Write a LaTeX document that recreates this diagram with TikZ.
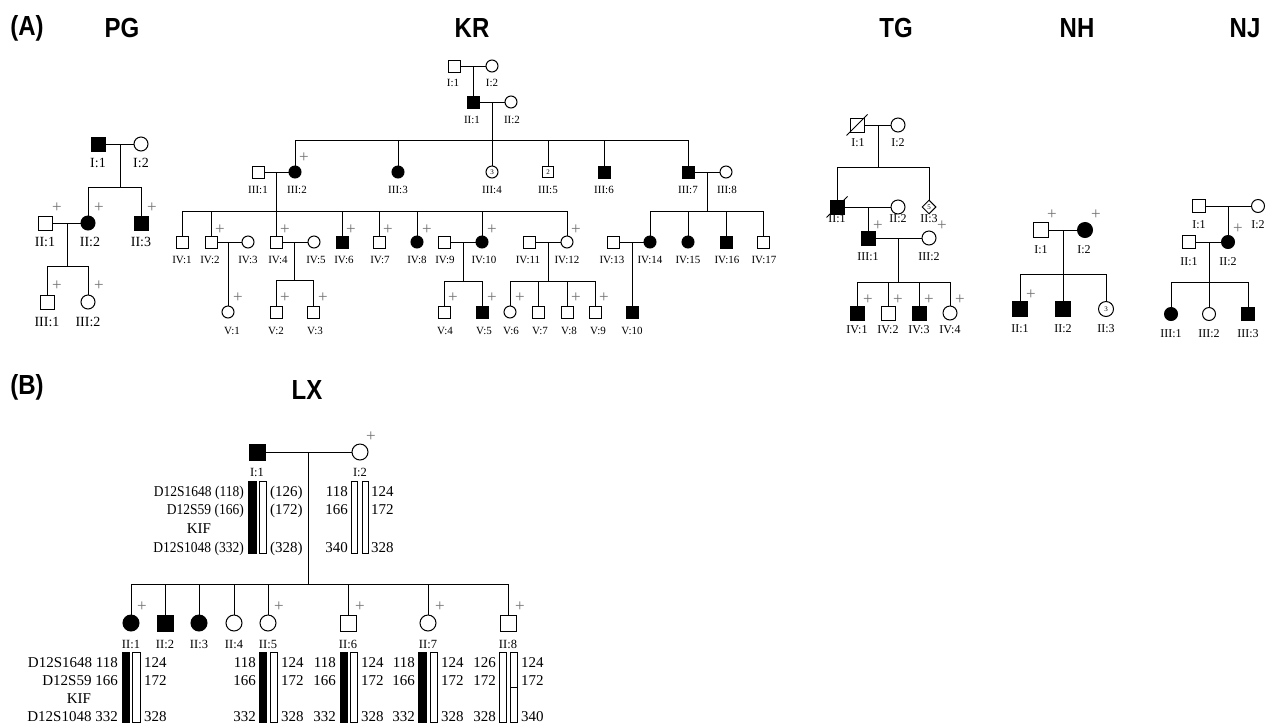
\documentclass[tikz,border=0pt]{standalone}
\usepackage{fontspec}
\setmainfont{Liberation Serif}
\newfontfamily\hvfont{Liberation Sans}
\usetikzlibrary{shapes.geometric}
\newcommand\kid[2]{\draw[ln] (#1) -- (#1 |- #2);}
\newcommand\sib[3]{\draw[ln] (#1 |- #3) -- (#2 |- #3);}
\begin{document}
\begin{tikzpicture}[x=1pt,y=-1pt,
  ln/.style={line width=1pt},
  sq/.style={draw,line width=1pt,rectangle,inner sep=0pt,minimum size=\symsz},
  ci/.style={draw,line width=1pt,circle,inner sep=0pt,minimum size=\symsz},
  di/.style={draw,line width=1pt,diamond,inner sep=0pt,minimum size=\symsz},
  aff/.style={fill=black},
  lab/.style={font=\labfont,inner sep=0pt},
  pl/.style={font=\fontsize{17}{17}\selectfont,text=black!55,inner sep=0pt},
  ttl/.style={font=\hvfont\bfseries\fontsize{24}{24}\selectfont,inner sep=0pt,yscale=1.15},
  gt/.style={font=\fontsize{15}{15}\selectfont,inner sep=0pt,text height=10pt,text depth=0pt},
  gtl/.style={gt,anchor=east},
  gtr/.style={gt,anchor=west},
  bar/.style={draw,line width=0.9pt},
  num/.style={font=\fontsize{7}{7}\selectfont}
]
\fill[white] (0,0) rectangle (1269,724);
\useasboundingbox (0,0) rectangle (1269,724);
% ---------- titles
\node[ttl] (tA) at (27,28) {(A)};
\node[ttl] (tPG) at (122,28) {PG};
\node[ttl] (tKR) at (472,28) {KR};
\node[ttl] (tTG) at (896,28) {TG};
\node[ttl] (tNH) at (1077,28) {NH};
\node[ttl] (tNJ) at (1245,28) {NJ};
\node[ttl] (tB) at (27,387) {(B)};
\node[ttl] (tLX) at (307,390) {LX};
% ---------- PG
\def\symsz{14pt}\def\labfont{\fontsize{14}{14}\selectfont}
\node[sq,aff] (pg11) at (98,144) {};
\node[ci] (pg12) at (141,144) {};
\node[sq] (pg21) at (45,223) {};
\node[ci,aff] (pg22) at (88,223) {};
\node[sq,aff] (pg23) at (141,223) {};
\node[sq] (pg31) at (47,302) {};
\node[ci] (pg32) at (88,302) {};
\coordinate (pgm1) at (120,144); \coordinate (pgs1) at (120,187);
\coordinate (pgm2) at (67,223); \coordinate (pgs2) at (67,266);
\draw[ln] (pg11) -- (pg12);
\draw[ln] (pgm1) -- (pgs1);
\sib{pg22}{pg23}{pgs1} \kid{pg22}{pgs1} \kid{pg23}{pgs1}
\draw[ln] (pg21) -- (pg22);
\draw[ln] (pgm2) -- (pgs2);
\sib{pg31}{pg32}{pgs2} \kid{pg31}{pgs2} \kid{pg32}{pgs2}
\node[lab] (pg11l) at (98,163) {I:1};
\node[lab] (pg12l) at (141,163) {I:2};
\node[lab] (pg21l) at (45,242) {II:1};
\node[lab] (pg22l) at (90,242) {II:2};
\node[lab] (pg23l) at (141,242) {II:3};
\node[lab] (pg31l) at (47,322) {III:1};
\node[lab] (pg32l) at (88,322) {III:2};
\node[pl] (pg21p) at (57,208) {+};
\node[pl] (pg22p) at (99,208) {+};
\node[pl] (pg23p) at (152,208) {+};
\node[pl] (pg31p) at (57,286) {+};
\node[pl] (pg32p) at (99,286) {+};
% ---------- KR
\def\symsz{12pt}\def\labfont{\fontsize{11}{11}\selectfont}
\node[sq] (kr11) at (454,66) {};
\node[ci] (kr12) at (492,66) {};
\node[sq,aff] (kr21) at (473,102) {};
\node[ci] (kr22) at (511,102) {};
\node[sq] (kr31) at (258,172) {};
\node[ci,aff] (kr32) at (295,172) {};
\node[ci,aff] (kr33) at (398,172) {};
\node[ci,num] (kr34) at (492,172) {3};
\node[sq,num,minimum size=11pt] (kr35) at (548,172) {2};
\node[sq,aff] (kr36) at (604,172) {};
\node[sq,aff] (kr37) at (688,172) {};
\node[ci] (kr38) at (726,172) {};
\node[sq] (kr41) at (182,242) {};
\node[sq] (kr42) at (211,242) {};
\node[ci] (kr43) at (248,242) {};
\node[sq] (kr44) at (276,242) {};
\node[ci] (kr45) at (314,242) {};
\node[sq,aff] (kr46) at (342,242) {};
\node[sq] (kr47) at (379,242) {};
\node[ci,aff] (kr48) at (417,242) {};
\node[sq] (kr49) at (444,242) {};
\node[ci,aff] (kr410) at (482,242) {};
\node[sq] (kr411) at (529,242) {};
\node[ci] (kr412) at (567,242) {};
\node[sq] (kr413) at (613,242) {};
\node[ci,aff] (kr414) at (650,242) {};
\node[ci,aff] (kr415) at (688,242) {};
\node[sq,aff] (kr416) at (726,242) {};
\node[sq] (kr417) at (763,242) {};
\node[ci] (kr51) at (228,312) {};
\node[sq] (kr52) at (276,312) {};
\node[sq] (kr53) at (313,312) {};
\node[sq] (kr54) at (444,312) {};
\node[sq,aff] (kr55) at (482,312) {};
\node[ci] (kr56) at (510,312) {};
\node[sq] (kr57) at (538,312) {};
\node[sq] (kr58) at (567,312) {};
\node[sq] (kr59) at (595,312) {};
\node[sq,aff] (kr510) at (632,312) {};
\coordinate (krm1) at (473,66);
\coordinate (krm2) at (492,102); \coordinate (krs2) at (492,140);
\coordinate (krm3) at (276,172); \coordinate (krs3) at (276,211);
\coordinate (krm4) at (707,172); \coordinate (krs4) at (707,211);
\coordinate (krm5) at (228,242);
\coordinate (krm6) at (294,242); \coordinate (krs6) at (294,280);
\coordinate (krm7) at (463,242); \coordinate (krs7) at (463,281);
\coordinate (krm8) at (548,242); \coordinate (krs8) at (548,281);
\coordinate (krm9) at (632,242);
\draw[ln] (kr11) -- (kr12);
\draw[ln] (krm1) -- (kr21);
\draw[ln] (kr21) -- (kr22);
\draw[ln] (krm2) -- (kr34);
\sib{kr32}{kr37}{krs2}
\kid{kr32}{krs2} \kid{kr33}{krs2} \kid{kr35}{krs2} \kid{kr36}{krs2} \kid{kr37}{krs2}
\draw[ln] (kr31) -- (kr32);
\draw[ln] (krm3) -- (kr44);
\sib{kr41}{kr412}{krs3}
\kid{kr41}{krs3} \kid{kr42}{krs3} \kid{kr46}{krs3} \kid{kr47}{krs3} \kid{kr48}{krs3} \kid{kr410}{krs3} \kid{kr412}{krs3}
\draw[ln] (kr37) -- (kr38);
\draw[ln] (krm4) -- (krs4);
\sib{kr414}{kr417}{krs4}
\kid{kr414}{krs4} \kid{kr415}{krs4} \kid{kr416}{krs4} \kid{kr417}{krs4}
\draw[ln] (kr42) -- (kr43);
\draw[ln] (krm5) -- (kr51);
\draw[ln] (kr44) -- (kr45);
\draw[ln] (krm6) -- (krs6);
\sib{kr52}{kr53}{krs6} \kid{kr52}{krs6} \kid{kr53}{krs6}
\draw[ln] (kr49) -- (kr410);
\draw[ln] (krm7) -- (krs7);
\sib{kr54}{kr55}{krs7} \kid{kr54}{krs7} \kid{kr55}{krs7}
\draw[ln] (kr411) -- (kr412);
\draw[ln] (krm8) -- (krs8);
\sib{kr56}{kr59}{krs8} \kid{kr56}{krs8} \kid{kr57}{krs8} \kid{kr58}{krs8} \kid{kr59}{krs8}
\draw[ln] (kr413) -- (kr414);
\draw[ln] (krm9) -- (kr510);
\node[lab] (kr11l) at (453,83) {I:1};
\node[lab] (kr12l) at (492,83) {I:2};
\node[lab] (kr21l) at (472,120) {II:1};
\node[lab] (kr22l) at (512,120) {II:2};
\node[lab] (kr31l) at (258,190) {III:1};
\node[lab] (kr32l) at (297,190) {III:2};
\node[lab] (kr33l) at (398,190) {III:3};
\node[lab] (kr34l) at (492,190) {III:4};
\node[lab] (kr35l) at (548,190) {III:5};
\node[lab] (kr36l) at (604,190) {III:6};
\node[lab] (kr37l) at (688,190) {III:7};
\node[lab] (kr38l) at (727,190) {III:8};
\node[lab] (kr41l) at (182,260) {IV:1};
\node[lab] (kr42l) at (210,260) {IV:2};
\node[lab] (kr43l) at (248,260) {IV:3};
\node[lab] (kr44l) at (278,260) {IV:4};
\node[lab] (kr45l) at (316,260) {IV:5};
\node[lab] (kr46l) at (344,260) {IV:6};
\node[lab] (kr47l) at (380,260) {IV:7};
\node[lab] (kr48l) at (417,260) {IV:8};
\node[lab] (kr49l) at (445,260) {IV:9};
\node[lab] (kr410l) at (484,260) {IV:10};
\node[lab] (kr411l) at (528,260) {IV:11};
\node[lab] (kr412l) at (567,260) {IV:12};
\node[lab] (kr413l) at (612,260) {IV:13};
\node[lab] (kr414l) at (650,260) {IV:14};
\node[lab] (kr415l) at (688,260) {IV:15};
\node[lab] (kr416l) at (727,260) {IV:16};
\node[lab] (kr417l) at (764,260) {IV:17};
\node[lab] (kr51l) at (232,331) {V:1};
\node[lab] (kr52l) at (276,331) {V:2};
\node[lab] (kr53l) at (315,331) {V:3};
\node[lab] (kr54l) at (445,331) {V:4};
\node[lab] (kr55l) at (484,331) {V:5};
\node[lab] (kr56l) at (511,331) {V:6};
\node[lab] (kr57l) at (540,331) {V:7};
\node[lab] (kr58l) at (569,331) {V:8};
\node[lab] (kr59l) at (598,331) {V:9};
\node[lab] (kr510l) at (632,331) {V:10};
\node[pl] (kr32p) at (304,158) {+};
\node[pl] (kr42p) at (220,230) {+};
\node[pl] (kr44p) at (285,230) {+};
\node[pl] (kr46p) at (351,230) {+};
\node[pl] (kr47p) at (388,230) {+};
\node[pl] (kr48p) at (427,230) {+};
\node[pl] (kr410p) at (492,230) {+};
\node[pl] (kr412p) at (576,230) {+};
\node[pl] (kr51p) at (238,298) {+};
\node[pl] (kr52p) at (285,298) {+};
\node[pl] (kr53p) at (323,298) {+};
\node[pl] (kr54p) at (453,298) {+};
\node[pl] (kr55p) at (492,298) {+};
\node[pl] (kr56p) at (520,298) {+};
\node[pl] (kr58p) at (576,298) {+};
\node[pl] (kr59p) at (604,298) {+};
% ---------- TG
\def\symsz{14pt}\def\labfont{\fontsize{12}{12}\selectfont}
\node[sq] (tg11) at (857,125) {};
\node[ci] (tg12) at (898,125) {};
\node[sq,aff] (tg21) at (837,207) {};
\node[ci] (tg22) at (898,207) {};
\node[di,num] (tg23) at (929,207) {5};
\node[sq,aff] (tg31) at (868,238) {};
\node[ci] (tg32) at (929,238) {};
\node[sq,aff] (tg41) at (857,313) {};
\node[sq] (tg42) at (888,313) {};
\node[sq,aff] (tg43) at (919,313) {};
\node[ci] (tg44) at (950,313) {};
\coordinate (tgm1) at (878,125); \coordinate (tgs1) at (878,167);
\coordinate (tgm2) at (868,207);
\coordinate (tgm3) at (898,238); \coordinate (tgs3) at (898,282);
\draw[ln] (tg11) -- (tg12);
\draw[ln] (tgm1) -- (tgs1);
\sib{tg21}{tg23}{tgs1} \kid{tg21}{tgs1} \kid{tg23}{tgs1}
\draw[ln] (tg21) -- (tg22);
\draw[ln] (tgm2) -- (tg31);
\draw[ln] (tg31) -- (tg32);
\draw[ln] (tgm3) -- (tgs3);
\sib{tg41}{tg44}{tgs3} \kid{tg41}{tgs3} \kid{tg42}{tgs3} \kid{tg43}{tgs3} \kid{tg44}{tgs3}
\draw[ln] ([xshift=-3pt,yshift=-3pt]tg11.south west) -- ([xshift=3pt,yshift=3pt]tg11.north east);
\draw[ln] ([xshift=-3pt,yshift=-3pt]tg21.south west) -- ([xshift=3pt,yshift=3pt]tg21.north east);
\node[lab] (tg11l) at (858,143) {I:1};
\node[lab] (tg12l) at (898,143) {I:2};
\node[lab] (tg21l) at (837,219) {II:1};
\node[lab] (tg22l) at (898,219) {II:2};
\node[lab] (tg23l) at (929,219) {II:3};
\node[lab] (tg31l) at (868,257) {III:1};
\node[lab] (tg32l) at (929,257) {III:2};
\node[lab] (tg41l) at (857,330) {IV:1};
\node[lab] (tg42l) at (888,330) {IV:2};
\node[lab] (tg43l) at (919,330) {IV:3};
\node[lab] (tg44l) at (950,330) {IV:4};
\node[pl] (tg31p) at (878,226) {+};
\node[pl] (tg23p) at (942,226) {+};
\node[pl] (tg41p) at (868,300) {+};
\node[pl] (tg42p) at (898,300) {+};
\node[pl] (tg43p) at (929,300) {+};
\node[pl] (tg44p) at (960,300) {+};
% ---------- NH
\def\symsz{15pt}\def\labfont{\fontsize{12}{12}\selectfont}
\node[sq] (nh11) at (1041,230) {};
\node[ci,aff] (nh12) at (1085,230) {};
\node[sq,aff] (nh21) at (1020,309) {};
\node[sq,aff] (nh22) at (1063,309) {};
\node[ci,num] (nh23) at (1106,309) {3};
\coordinate (nhm1) at (1063,230); \coordinate (nhs1) at (1063,274);
\draw[ln] (nh11) -- (nh12);
\draw[ln] (nhm1) -- (nh22);
\sib{nh21}{nh23}{nhs1} \kid{nh21}{nhs1} \kid{nh23}{nhs1}
\node[lab] (nh11l) at (1041,250) {I:1};
\node[lab] (nh12l) at (1084,250) {I:2};
\node[lab] (nh21l) at (1020,329) {II:1};
\node[lab] (nh22l) at (1063,329) {II:2};
\node[lab] (nh23l) at (1106,329) {II:3};
\node[pl] (nh11p) at (1052,215) {+};
\node[pl] (nh12p) at (1096,215) {+};
\node[pl] (nh21p) at (1031,295) {+};
% ---------- NJ
\def\symsz{13pt}\def\labfont{\fontsize{12}{12}\selectfont}
\node[sq] (nj11) at (1199,206) {};
\node[ci] (nj12) at (1258,206) {};
\node[sq] (nj21) at (1189,242) {};
\node[ci,aff] (nj22) at (1228,242) {};
\node[ci,aff] (nj31) at (1171,314) {};
\node[ci] (nj32) at (1209,314) {};
\node[sq,aff] (nj33) at (1248,314) {};
\coordinate (njm1) at (1228,206);
\coordinate (njm2) at (1209,242); \coordinate (njs2) at (1209,282);
\draw[ln] (nj11) -- (nj12);
\draw[ln] (njm1) -- (nj22);
\draw[ln] (nj21) -- (nj22);
\draw[ln] (njm2) -- (nj32);
\sib{nj31}{nj33}{njs2} \kid{nj31}{njs2} \kid{nj33}{njs2}
\node[lab] (nj11l) at (1199,225) {I:1};
\node[lab] (nj12l) at (1258,225) {I:2};
\node[lab] (nj21l) at (1189,262) {II:1};
\node[lab] (nj22l) at (1228,262) {II:2};
\node[lab] (nj31l) at (1171,334) {III:1};
\node[lab] (nj32l) at (1209,334) {III:2};
\node[lab] (nj33l) at (1248,334) {III:3};
\node[pl] (nj22p) at (1238,229) {+};
% ---------- LX
\def\symsz{16pt}\def\labfont{\fontsize{12.5}{12.5}\selectfont}
\node[sq,aff] (lx11) at (257,452) {};
\node[ci] (lx12) at (360,452) {};
\node[ci,aff] (lx21) at (131,623) {};
\node[sq,aff] (lx22) at (165,623) {};
\node[ci,aff] (lx23) at (199,623) {};
\node[ci] (lx24) at (234,623) {};
\node[ci] (lx25) at (268,623) {};
\node[sq] (lx26) at (348,623) {};
\node[ci] (lx27) at (428,623) {};
\node[sq] (lx28) at (508,623) {};
\coordinate (lxm1) at (308,452); \coordinate (lxs1) at (308,584);
\draw[ln] (lx11) -- (lx12);
\draw[ln] (lxm1) -- (lxs1);
\sib{lx21}{lx28}{lxs1}
\kid{lx21}{lxs1} \kid{lx22}{lxs1} \kid{lx23}{lxs1} \kid{lx24}{lxs1}
\kid{lx25}{lxs1} \kid{lx26}{lxs1} \kid{lx27}{lxs1} \kid{lx28}{lxs1}
\node[lab] (lx11l) at (257,472) {I:1};
\node[lab] (lx12l) at (360,472) {I:2};
\node[lab] (lx21l) at (131,644) {II:1};
\node[lab] (lx22l) at (165,644) {II:2};
\node[lab] (lx23l) at (199,644) {II:3};
\node[lab] (lx24l) at (234,644) {II:4};
\node[lab] (lx25l) at (268,644) {II:5};
\node[lab] (lx26l) at (348,644) {II:6};
\node[lab] (lx27l) at (428,644) {II:7};
\node[lab] (lx28l) at (508,644) {II:8};
\node[pl] (lx12p) at (371,437) {+};
\node[pl] (lx21p) at (142,607) {+};
\node[pl] (lx25p) at (279,607) {+};
\node[pl] (lx26p) at (360,607) {+};
\node[pl] (lx27p) at (440,607) {+};
\node[pl] (lx28p) at (520,607) {+};
% haplotype bars
\filldraw[bar,fill=black] (248,481) rectangle (256,553);
\draw[bar] (259,481) rectangle (266,553);
\draw[bar] (351,481) rectangle (357,553);
\draw[bar] (362,481) rectangle (368,553);
\filldraw[bar,fill=black] (122,652) rectangle (129,722);
\draw[bar] (132,652) rectangle (140,722);
\filldraw[bar,fill=black] (259,652) rectangle (266,722);
\draw[bar] (270,652) rectangle (277,722);
\filldraw[bar,fill=black] (340,652) rectangle (347,722);
\draw[bar] (350,652) rectangle (357,722);
\filldraw[bar,fill=black] (418,652) rectangle (426,722);
\draw[bar] (430,652) rectangle (437,722);
\draw[bar] (499,652) rectangle (506,722);
\draw[bar] (510,652) rectangle (517,722);
\draw[bar] (510,687) -- (517,687);
% haplotype texts I
\node[gtl,xscale=0.9] (a1) at (244,491) {D12S1648 (118)};
\node[gtl,xscale=0.9] (a2) at (244,509) {D12S59 (166)};
\node[gt] (a3) at (199,528) {KIF};
\node[gtl,xscale=0.9] (a4) at (244,547) {D12S1048 (332)};
\node[gtr] (a5) at (270,491) {(126)};
\node[gtr] (a6) at (270,509) {(172)};
\node[gtr] (a7) at (270,547) {(328)};
\node[gtl] (b1) at (348,491) {118};
\node[gtl] (b2) at (348,509) {166};
\node[gtl] (b4) at (348,547) {340};
\node[gtr] (b5) at (371,491) {124};
\node[gtr] (b6) at (371,509) {172};
\node[gtr] (b7) at (371,547) {328};
% haplotype texts II
\node[gtl] (c1) at (118,662) {D12S1648 118};
\node[gtl] (c2) at (118,680) {D12S59 166};
\node[gt] (c3) at (79,698) {KIF};
\node[gtl] (c4) at (118,716) {D12S1048 332};
\node[gtr] (c5) at (144,662) {124};
\node[gtr] (c6) at (144,680) {172};
\node[gtr] (c7) at (144,716) {328};
\node[gtl] (d1) at (256,662) {118};
\node[gtl] (d2) at (256,680) {166};
\node[gtl] (d4) at (256,716) {332};
\node[gtr] (d5) at (281,662) {124};
\node[gtr] (d6) at (281,680) {172};
\node[gtr] (d7) at (281,716) {328};
\node[gtl] (e1) at (336,662) {118};
\node[gtl] (e2) at (336,680) {166};
\node[gtl] (e4) at (336,716) {332};
\node[gtr] (e5) at (361,662) {124};
\node[gtr] (e6) at (361,680) {172};
\node[gtr] (e7) at (361,716) {328};
\node[gtl] (f1) at (415,662) {118};
\node[gtl] (f2) at (415,680) {166};
\node[gtl] (f4) at (415,716) {332};
\node[gtr] (f5) at (441,662) {124};
\node[gtr] (f6) at (441,680) {172};
\node[gtr] (f7) at (441,716) {328};
\node[gtl] (g1) at (496,662) {126};
\node[gtl] (g2) at (496,680) {172};
\node[gtl] (g4) at (496,716) {328};
\node[gtr] (g5) at (521,662) {124};
\node[gtr] (g6) at (521,680) {172};
\node[gtr] (g7) at (521,716) {340};
\end{tikzpicture}
\end{document}
